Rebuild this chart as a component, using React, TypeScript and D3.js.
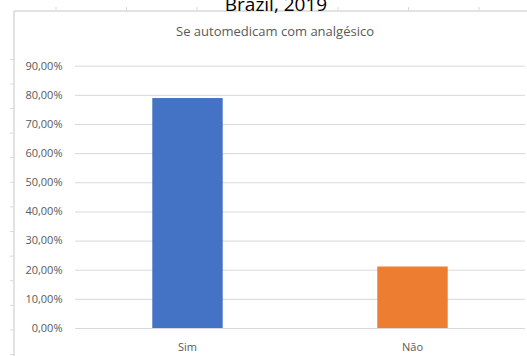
import { useEffect, useRef } from 'react';
import * as d3 from 'd3';

const categories = ['Sim', 'Não'];
const values = [0.789, 0.211];
const barColors = ['#4472C4', '#ED7D31'];
const yTicks = [0, 0.1, 0.2, 0.3, 0.4, 0.5, 0.6, 0.7, 0.8, 0.9];
const pageTitle = 'Brazil, 2019';
const chartTitle = 'Se automedicam com analgésico';

const W = 527;
const H = 356;

const App = () => {
    const svgRef = useRef<SVGSVGElement>(null);

    useEffect(() => {
        const svg = d3.select(svgRef.current);
        svg.selectAll('*').remove();

        const font = "'Open Sans', sans-serif";
        const plot = { left: 75, right: 525, top: 65.7, bottom: 328 };

        // spreadsheet frame behind the chart
        const frame = svg.append('g').attr('stroke', '#d9d9d9');
        frame.append('line').attr('x1', 14).attr('x2', W).attr('y1', 11).attr('y2', 11).attr('stroke-width', 1.5);
        frame.append('line').attr('x1', 14).attr('x2', 14).attr('y1', 11).attr('y2', H).attr('stroke-width', 1.5);
        d3.range(56, W, 70.5).forEach(x => {
            frame.append('line').attr('x1', x).attr('x2', x).attr('y1', 7).attr('y2', 10.5);
        });
        d3.range(59.3, H, 24.6).forEach(y => {
            frame.append('line').attr('x1', 10).attr('x2', 14).attr('y1', y).attr('y2', y);
        });

        svg.append('text')
            .attr('x', 276).attr('y', 11)
            .attr('text-anchor', 'middle')
            .attr('font-family', font).attr('font-size', 19)
            .attr('fill', '#000')
            .text(pageTitle);

        svg.append('text')
            .attr('x', 275).attr('y', 36)
            .attr('text-anchor', 'middle')
            .attr('font-family', font).attr('font-size', 13)
            .attr('fill', '#595959')
            .text(chartTitle);

        const x = d3.scaleBand<string>()
            .domain(categories)
            .range([plot.left, plot.right])
            .paddingInner(0.687)
            .paddingOuter(0.3435);

        const y = d3.scaleLinear()
            .domain([0, 0.9])
            .range([plot.bottom, plot.top]);

        const fmt = (d: number) => (d * 100).toFixed(2).replace('.', ',') + '%';

        // grid
        svg.append('g')
            .attr('transform', `translate(${plot.left},0)`)
            .call(d3.axisLeft(y).tickValues(yTicks).tickSize(-(plot.right - plot.left)).tickFormat(() => ''))
            .call(g => g.select('.domain').remove())
            .selectAll('line')
            .attr('stroke', '#d9d9d9');

        // y labels
        svg.append('g')
            .selectAll('text')
            .data(yTicks)
            .join('text')
            .attr('x', 62.5)
            .attr('y', d => y(d))
            .attr('dy', '0.35em')
            .attr('text-anchor', 'end')
            .attr('font-family', font).attr('font-size', 11)
            .attr('fill', '#595959')
            .text(fmt);

        // bars
        svg.append('g')
            .selectAll('rect')
            .data(values)
            .join('rect')
            .attr('x', (_, i) => x(categories[i])!)
            .attr('width', x.bandwidth())
            .attr('y', d => y(d))
            .attr('height', d => y(0) - y(d))
            .attr('fill', (_, i) => barColors[i]);

        // x labels
        svg.append('g')
            .selectAll('text')
            .data(categories)
            .join('text')
            .attr('x', d => x(d)! + x.bandwidth() / 2)
            .attr('y', 347)
            .attr('dy', '0.35em')
            .attr('text-anchor', 'middle')
            .attr('font-family', font).attr('font-size', 11)
            .attr('fill', '#595959')
            .text(d => d);
    }, []);

    return (
        <svg
            ref={svgRef}
            width={W}
            height={H}
            style={{ position: 'absolute', left: 0, top: 0, background: '#fff' }}
        />
    );
};

export default App;
